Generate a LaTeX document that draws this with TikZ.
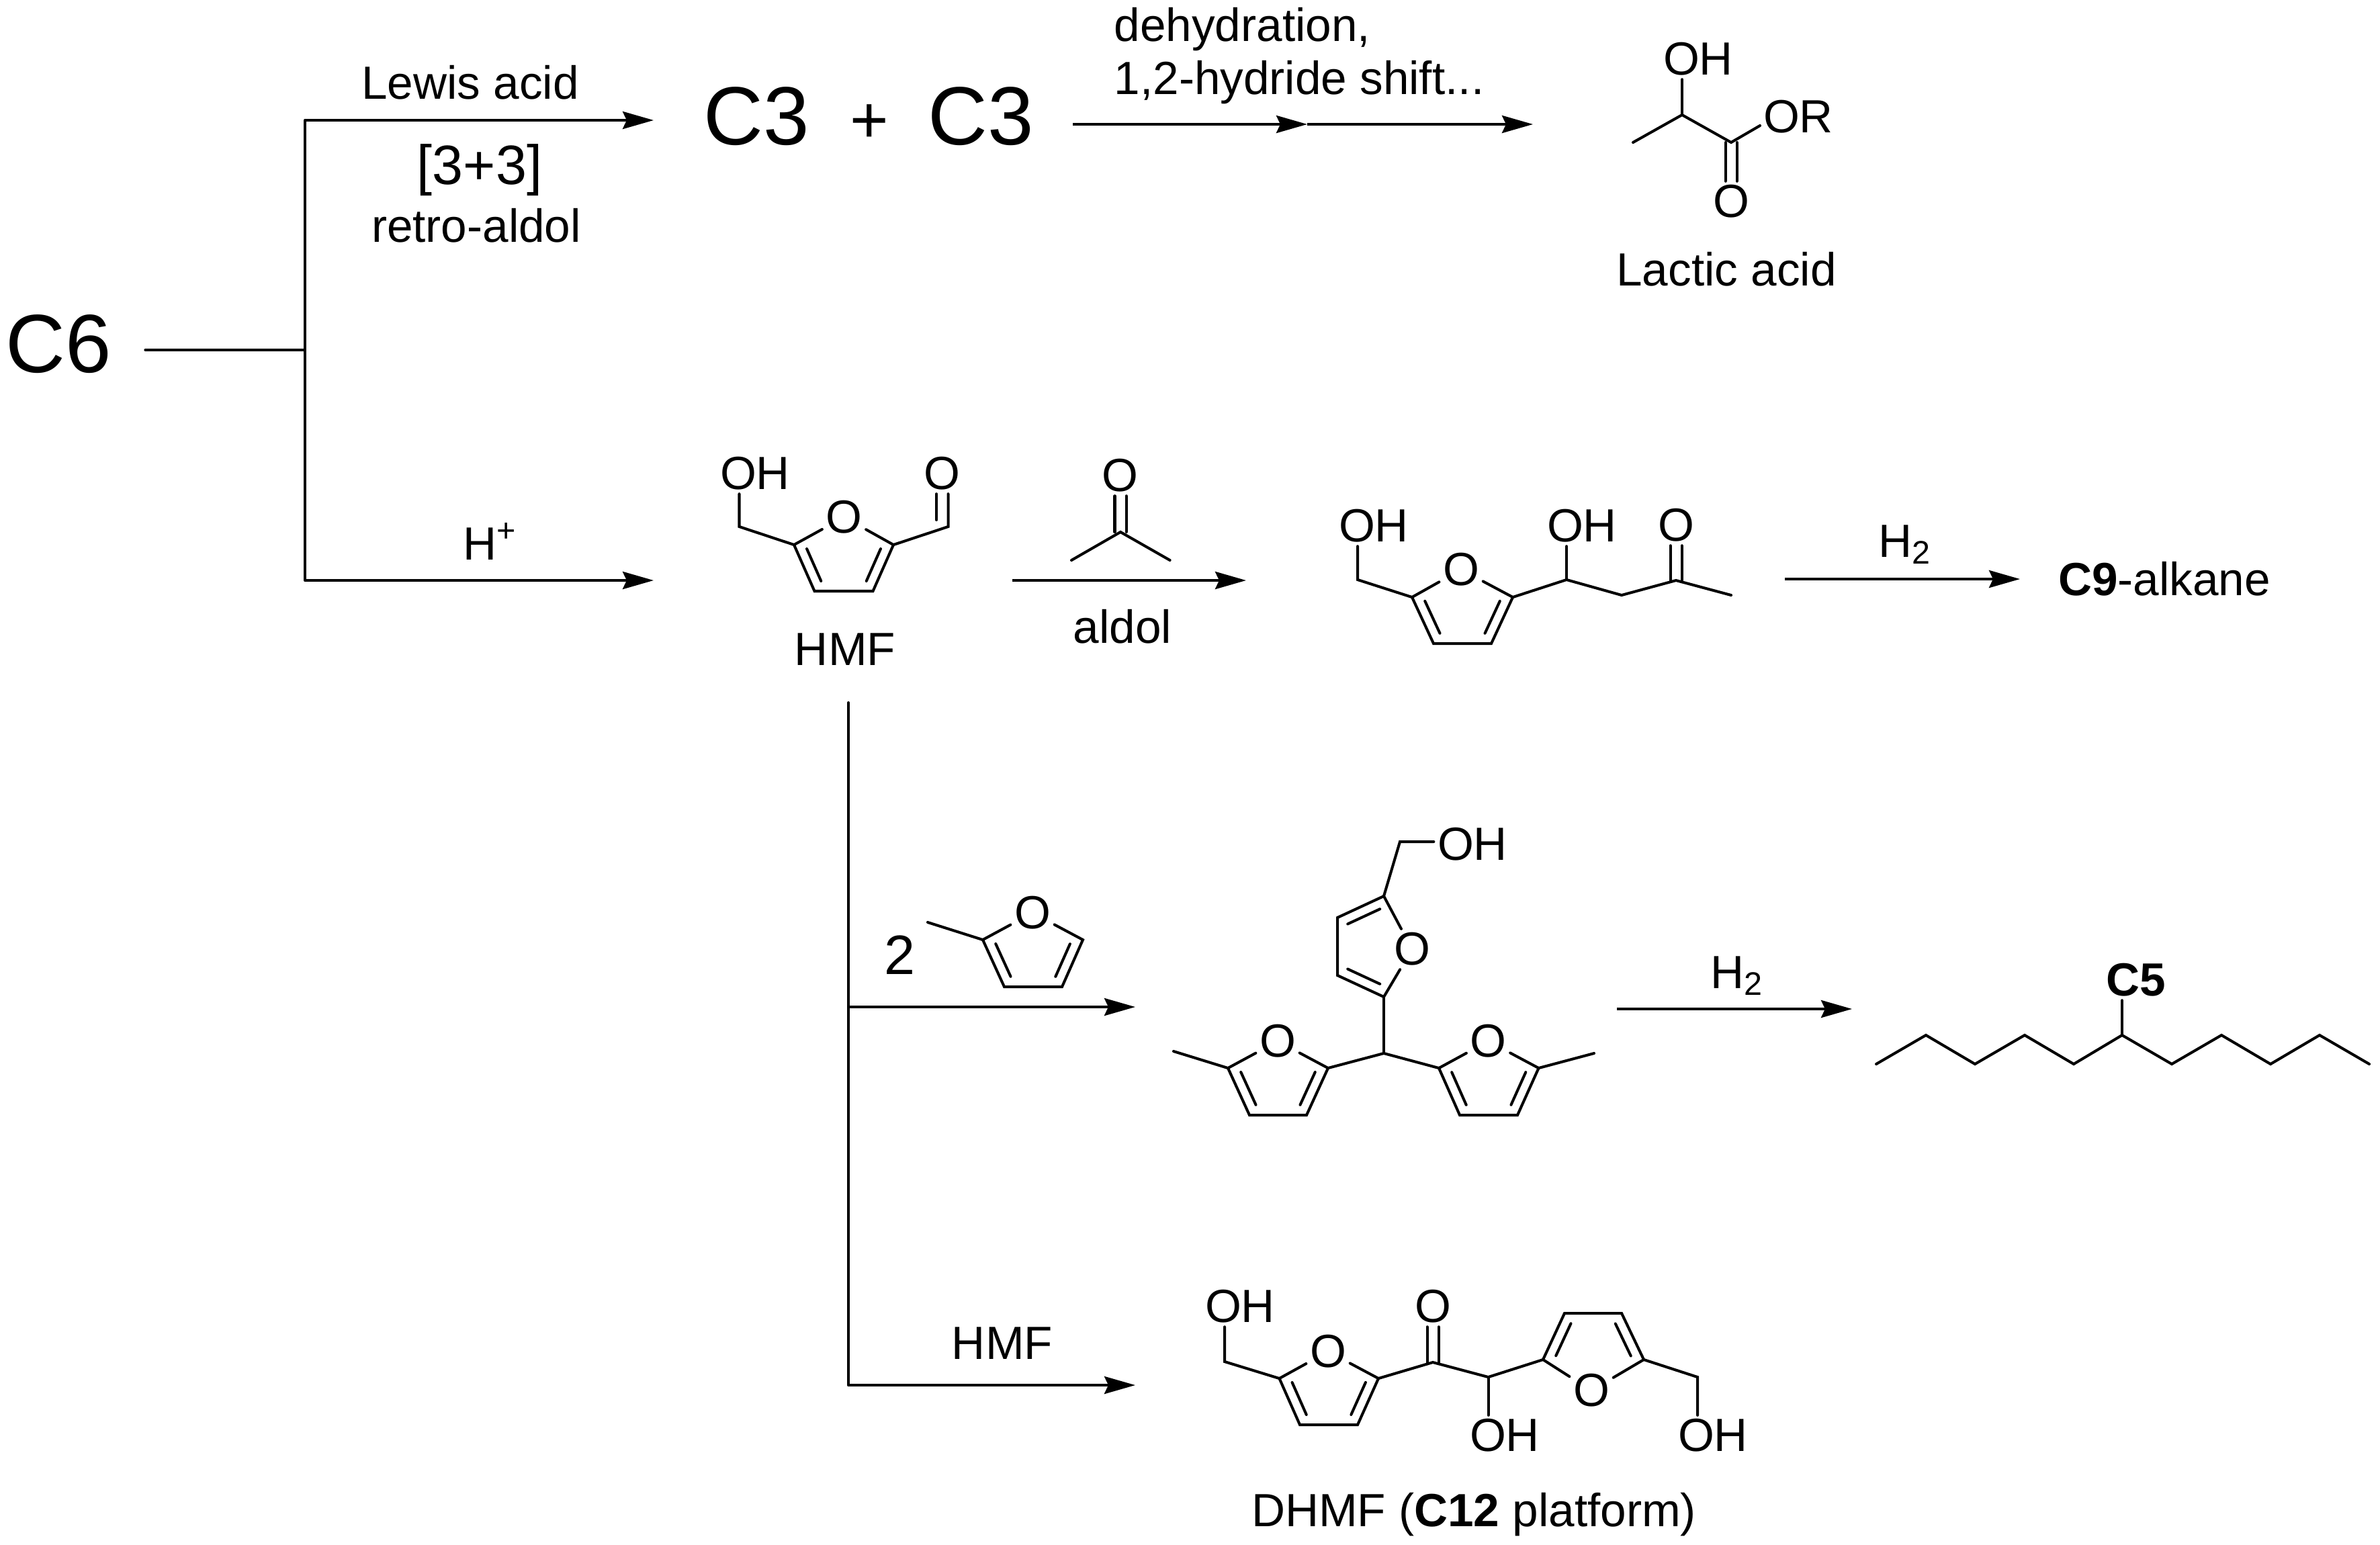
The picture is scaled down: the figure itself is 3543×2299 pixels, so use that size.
\documentclass[tikz,border=0pt]{standalone}
\usepackage{fontspec}
\setmainfont{Liberation Sans}
\usetikzlibrary{arrows.meta,calc}
\tikzset{
	bond/.style={line width=1.15pt, line cap=round},
	rxn/.style={line width=1.15pt, -{Stealth[length=0.46cm,width=0.26cm,inset=0.06cm]}},
	line/.style={line width=1.15pt, line cap=round},
	atom/.style={font=\fontsize{19.7pt}{22.2pt}\selectfont, inner sep=0.05cm},
	lbl/.style={font=\fontsize{19.7pt}{22.2pt}\selectfont, inner sep=0pt, anchor=base},
	midlbl/.style={font=\fontsize{23.5pt}{26pt}\selectfont, inner sep=0pt, anchor=base},
	biglbl/.style={font=\fontsize{35pt}{38pt}\selectfont, inner sep=0pt, anchor=base},
}
\begin{document}
\begin{tikzpicture}[x=0.01cm, y=-0.01cm]
	\useasboundingbox (0, 0) rectangle (3543, 2299);
	\node[biglbl] (c6) at (87, 554) {C6};
	\coordinate (jn) at (454, 521);
	\coordinate (jntop) at (454, 179);
	\coordinate (jnbot) at (454, 864);
	\coordinate (topend) at (973, 179);
	\coordinate (botend) at (973, 864);
	\draw[line, shorten <=0.5cm] (c6.east |- jn) -- (jn);
	\draw[line] (jntop) -- (jnbot);
	\draw[rxn] (jntop) -- (topend);
	\draw[rxn] (jnbot) -- (botend);
	\node[lbl] (lewis) at (700, 147) {Lewis acid};
	\node[midlbl] (three) at (714, 274) {[3+3]};
	\node[lbl] (retro) at (709, 360) {retro-aldol};
	\node[lbl] (hplus) at (730, 833) {H\textsuperscript{+}};
	\node[biglbl] (c3a) at (1126.5, 215) {C3};
	\node[font=\fontsize{28pt}{30pt}\selectfont, inner sep=0pt, anchor=base] (plus) at (1294.5, 212) {+};
	\node[biglbl] (c3b) at (1460.5, 215) {C3};
	\coordinate (s1) at (1597, 185);
	\coordinate (s2) at (1946, 185);
	\coordinate (s3) at (2282, 185);
	\draw[rxn] (s1) -- (s2);
	\draw[rxn] (s2) -- (s3);
	\node[lbl, anchor=base west, align=left] (dehyd) at (1658, 140) {dehydration,\\1,2-hydride shift...};
	\coordinate (la-me) at (2431, 212);
	\coordinate (la-ch) at (2504, 171);
	\coordinate (la-c) at (2577, 212);
	\coordinate (la-orb) at (2620, 187);
	\node[atom] (la-oh) at (2528, 88) {OH};
	\node[atom] (la-or) at (2677, 174) {OR};
	\node[atom] (la-o) at (2577, 300) {O};
	\node[lbl] (lactic) at (2570, 425) {Lactic acid};
	\draw[bond] (la-me) -- (la-ch) -- (la-c) -- (la-orb);
	\draw[bond] (la-ch) -- (la-ch |- la-oh.south);
	\foreach \fur/\po/\pa/\pb/\pc/\pd in {
		hmf/{1256.5,770}/{1182,811}/{1212.5,880}/{1299.5,880}/{1330,811},
		prod/{2175,848}/{2102,889}/{2134,958}/{2220,958}/{2252,889},
		mf/{1537,1359}/{1463,1399}/{1495,1469}/{1581,1469}/{1612,1399},
		top/{2102,1413}/{2060,1334}/{1991,1366}/{1991,1452}/{2060,1484},
		tl/{1902,1550}/{1828,1590}/{1860,1660}/{1945,1660}/{1977,1590},
		tr/{2215.5,1550}/{2142,1590}/{2173,1660}/{2259,1660}/{2290.5,1590},
		dl/{1977,2012}/{1904.5,2052}/{1935,2121}/{2021,2121}/{2052,2052},
		dr/{2369,2070}/{2447,2024}/{2414,1955}/{2329,1955}/{2297,2024}} {
		\node[atom] (\fur-o) at (\po) {O};
		\coordinate (\fur-c5) at (\pa);
		\coordinate (\fur-c4) at (\pb);
		\coordinate (\fur-c3) at (\pc);
		\coordinate (\fur-c2) at (\pd);
		\draw[bond] (\fur-o) -- (\fur-c5) -- (\fur-c4) -- (\fur-c3) -- (\fur-c2) -- (\fur-o);
		\draw[bond] ($(\fur-c5)!.175!(\fur-c4)!.15cm!90:(\fur-c4)$) -- ($(\fur-c5)!.87!(\fur-c4)!.15cm!90:(\fur-c4)$);
		\draw[bond] ($(\fur-c3)!.13!(\fur-c2)!.15cm!90:(\fur-c2)$) -- ($(\fur-c3)!.825!(\fur-c2)!.15cm!90:(\fur-c2)$);
	}
	\coordinate (hmf-ch2) at (1100.5, 784);
	\coordinate (hmf-cho) at (1411.5, 784);
	\coordinate (hmf-cho2) at (1394, 774);
	\node[atom] (hmf-oh) at (1124, 705) {OH};
	\node[atom] (hmf-ald) at (1402, 705) {O};
	\node[lbl] (hmf) at (1258, 990) {HMF};
	\draw[bond] (hmf-c5) -- (hmf-ch2) -- (hmf-ch2 |- hmf-oh.south);
	\draw[bond] (hmf-c2) -- (hmf-cho) -- (hmf-cho |- hmf-ald.south);
	\draw[bond] (hmf-cho2) -- (hmf-cho2 |- hmf-ald.south);
	\coordinate (hmfout) at (1507, 864);
	\coordinate (prodin) at (1855, 864);
	\draw[rxn] (hmfout) -- (prodin);
	\coordinate (ac-c) at (1668, 792);
	\coordinate (ac-l) at (1595, 834);
	\coordinate (ac-r) at (1741.6, 834);
	\node[atom] (ac-o) at (1667, 708) {O};
	\node[lbl] (aldol) at (1671, 957) {aldol};
	\draw[bond] (ac-l) -- (ac-c) -- (ac-r);
	\coordinate (prod-ch2) at (2021, 863);
	\coordinate (prod-ch) at (2332, 863);
	\coordinate (prod-ch2b) at (2414, 886);
	\coordinate (ket-c) at (2495, 864);
	\coordinate (ket-me) at (2577, 886);
	\node[atom] (prod-oh) at (2045, 783) {OH};
	\node[atom] (prod-ohb) at (2355, 783) {OH};
	\node[atom] (ket-o) at (2495, 782) {O};
	\draw[bond] (prod-c5) -- (prod-ch2) -- (prod-ch2 |- prod-oh.south);
	\draw[bond] (prod-c2) -- (prod-ch) -- (prod-ch2b) -- (ket-c) -- (ket-me);
	\draw[bond] (prod-ch) -- (prod-ch |- prod-ohb.south);
	\coordinate (prodout) at (2657, 862);
	\coordinate (c9in) at (3007, 862);
	\draw[rxn] (prodout) -- (c9in);
	\node[lbl] (h2a) at (2836, 829) {H\textsubscript{2}};
	\node[lbl] (c9) at (3222, 886) {\textbf{C9}-alkane};
	\coordinate (dntop) at (1263, 1046);
	\coordinate (dnmid) at (1263, 1499);
	\coordinate (dnbot) at (1263, 2062);
	\coordinate (midend) at (1690, 1499);
	\coordinate (lowend) at (1690, 2062);
	\draw[line] (dntop) -- (dnbot);
	\draw[rxn] (dnmid) -- (midend);
	\draw[rxn] (dnbot) -- (lowend);
	\node[midlbl] (two) at (1339, 1450) {2};
	\coordinate (mf-me) at (1381, 1373);
	\draw[bond] (mf-c5) -- (mf-me);
	\coordinate (top-ch2) at (2084, 1253);
	\coordinate (tri-c) at (2060, 1568);
	\coordinate (tl-me) at (1747, 1565);
	\coordinate (tr-me) at (2373, 1568);
	\node[atom] (top-oh) at (2192, 1257) {OH};
	\draw[bond] (top-c5) -- (top-ch2) -- (top-oh.west |- top-ch2);
	\draw[bond] (top-c2) -- (tri-c);
	\draw[bond] (tl-c2) -- (tri-c) -- (tr-c5);
	\draw[bond] (tl-c5) -- (tl-me);
	\draw[bond] (tr-c2) -- (tr-me);
	\coordinate (triout) at (2407, 1502);
	\coordinate (alkin) at (2757, 1502);
	\draw[rxn] (triout) -- (alkin);
	\node[lbl] (h2b) at (2585.5, 1471) {H\textsubscript{2}};
	\node[atom] (c5) at (3180, 1459) {\textbf{C5}};
	\coordinate (z0) at (2793, 1584);
	\coordinate (z1) at (2867, 1541);
	\coordinate (z2) at (2940, 1584);
	\coordinate (z3) at (3014, 1541);
	\coordinate (z4) at (3087, 1584);
	\coordinate (z5) at (3159, 1541);
	\coordinate (z6) at (3233, 1584);
	\coordinate (z7) at (3307, 1541);
	\coordinate (z8) at (3380, 1584);
	\coordinate (z9) at (3453, 1541);
	\coordinate (z10) at (3527, 1584);
	\draw[bond] (z0) -- (z1) -- (z2) -- (z3) -- (z4) -- (z5) -- (z6) -- (z7) -- (z8) -- (z9) -- (z10);
	\draw[bond] (z5) -- (z5 |- c5.south);
	\node[lbl] (hmfb) at (1492, 2023) {HMF};
	\coordinate (dl-ch2) at (1823, 2027);
	\coordinate (dh-c) at (2133, 2028);
	\coordinate (dh-ch) at (2215.5, 2050);
	\coordinate (dr-ch2) at (2527, 2050);
	\node[atom] (dl-oh) at (1846, 1945) {OH};
	\node[atom] (dh-o) at (2133, 1945) {O};
	\node[atom] (dh-oh) at (2240, 2137) {OH};
	\node[atom] (dr-oh) at (2550, 2137) {OH};
	\node[lbl] (dhmf) at (2194, 2272) {DHMF (\textbf{C12} platform)};
	\draw[bond] (dl-c5) -- (dl-ch2) -- (dl-ch2 |- dl-oh.south);
	\draw[bond] (dl-c2) -- (dh-c) -- (dh-ch) -- (dr-c2);
	\draw[bond] (dh-ch) -- (dh-ch |- dh-oh.north);
	\draw[bond] (dr-c5) -- (dr-ch2) -- (dr-ch2 |- dr-oh.north);
	\foreach \cc/\oo/\side in {la-c/la-o/north, ac-c/ac-o/south, ket-c/ket-o/south, dh-c/dh-o/south}
		\foreach \s in {-0.085, 0.085}
			\draw[bond] ([xshift=\s cm]\cc) -- ([xshift=\s cm]\cc |- \oo.\side);
\end{tikzpicture}
\end{document}
